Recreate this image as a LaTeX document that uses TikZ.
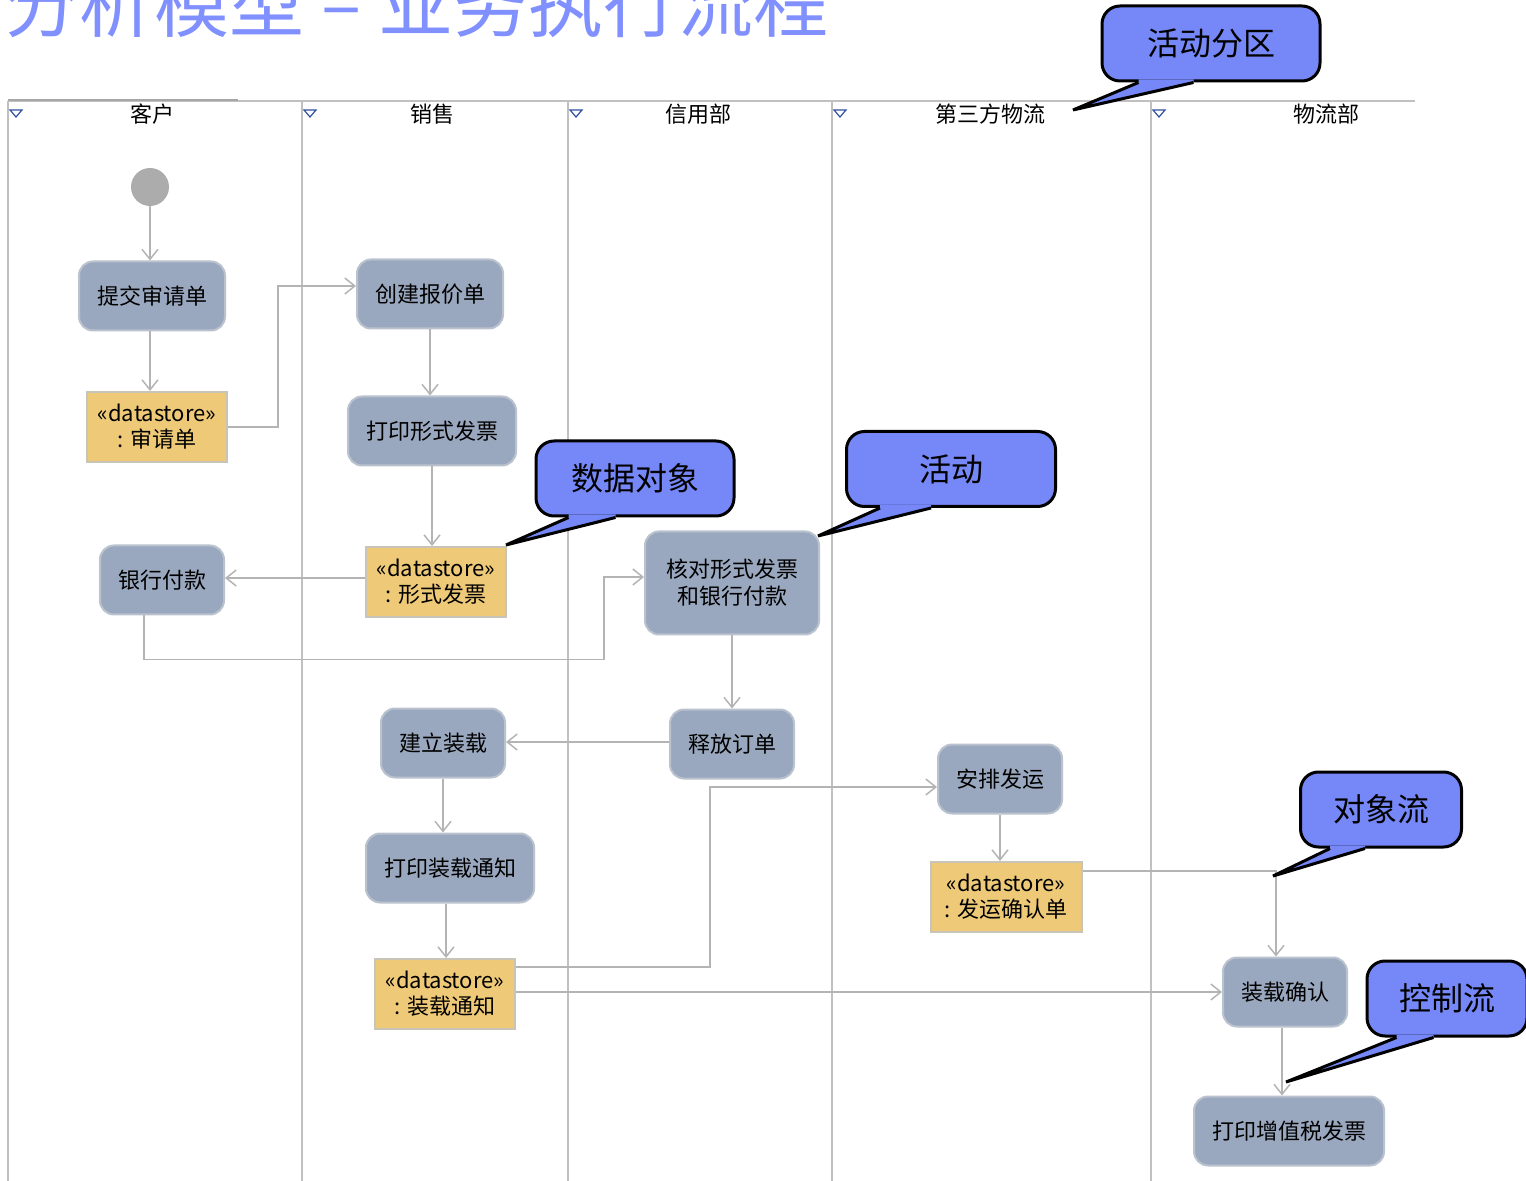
\documentclass[tikz,border=0pt]{standalone}
\usepackage{fontspec}
\setmainfont{Noto Sans CJK SC}
\usetikzlibrary{arrows.meta,calc}

\definecolor{lanegray}{RGB}{192,192,192}
\definecolor{flowgray}{RGB}{180,180,180}
\definecolor{actfill}{RGB}{154,168,191}
\definecolor{actline}{RGB}{186,194,206}
\definecolor{dsfill}{RGB}{238,201,120}
\definecolor{dsline}{RGB}{200,196,184}
\definecolor{initgray}{RGB}{172,172,172}
\definecolor{noteblue}{RGB}{118,136,248}
\definecolor{titleblue}{RGB}{128,144,255}
\definecolor{triblue}{RGB}{48,80,160}

\begin{document}
\begin{tikzpicture}[x=0.5pt, y=-0.5pt, >={Straight Barb[length=5pt,width=8pt]},
  activity/.style={draw=actline, fill=actfill, line width=1pt, rounded corners=7pt,
    minimum height=34.5pt, inner xsep=9pt, align=center,
    font=\fontsize{11}{13.5}\selectfont},
  datastore/.style={draw=dsline, fill=dsfill, line width=1pt, minimum width=70pt,
    minimum height=35pt, inner xsep=5pt, align=center,
    font=\fontsize{11}{13}\selectfont},
  initstate/.style={circle, fill=initgray, minimum size=19pt, inner sep=0pt},
  lane label/.style={font=\fontsize{11}{13}\selectfont, inner sep=0pt},
  flow/.style={->, draw=flowgray, line width=0.75pt},
  note/.style={draw=black, fill=noteblue, line width=1.5pt, rounded corners=9pt,
    minimum height=37.5pt, font=\fontsize{16}{18}\selectfont}]

\useasboundingbox (0,0) rectangle (1526,1181);
\clip (0,0) rectangle (1526,1181);

% title
\node [anchor=base west, inner sep=0pt, text=titleblue,
  font=\fontsize{37.5}{40}\selectfont] (title) at (4,32) {分析模型 – 业务执行流程};

% swimlanes
\draw [lanegray, line width=1pt] (8,101) -- (1415,101);
\draw [gray!70, line width=1pt] (8,100) -- (238,100);
\foreach \x/\l/\c in {8/客户/152, 302/销售/432, 568/信用部/698,
                      832/第三方物流/990, 1151/物流部/1326}
{
  \draw [lanegray, line width=1pt] (\x,101) -- (\x,1181);
  \node [lane label] (lane-\x) at (\c,114) {\l};
  \draw [triblue, fill=white, line width=0.6pt]
    (\x+2,110) -- (\x+14,110) -- (\x+8,117) -- cycle;
}

% activities and data stores
\node [initstate] (init) at (150,187) {};
\node [activity] (submit) at (152,296) {提交审请单};
\node [datastore] (ds1) at (157,427) {«datastore»\\: 审请单};
\node [activity] (quote) at (430,294) {创建报价单};
\node [activity] (printpi) at (432,431) {打印形式发票};
\node [datastore] (ds2) at (436,582) {«datastore»\\: 形式发票};
\node [activity] (bank) at (162,580) {银行付款};
\node [activity, minimum width=87pt, minimum height=51.5pt] (check) at (732,583)
  {核对形式发票\\和银行付款};
\node [activity] (release) at (732,744) {释放订单};
\node [activity] (load) at (443,743) {建立装载};
\node [activity] (println) at (450,868) {打印装载通知};
\node [datastore] (ds3) at (445,994) {«datastore»\\: 装载通知};
\node [activity] (ship) at (1000,779) {安排发运};
\node [datastore, minimum width=75.5pt] (ds4) at (1006,897) {«datastore»\\: 发运确认单};
\node [activity] (confirm) at (1285,992) {装载确认};
\node [activity] (vat) at (1289,1131) {打印增值税发票};

% flows
\draw [flow] (init) -- (init |- submit.north);
\draw [flow] ([xshift=-1pt]submit.south) -- ([xshift=-1pt]submit.south |- ds1.north);
\draw [flow] (ds1.east) -- ++(50,0) |- ([yshift=4pt]quote.west);
\draw [flow] (quote.south) -- (quote.south |- printpi.north);
\draw [flow] (printpi.south) -- (printpi.south |- ds2.north);
\draw [flow] ([yshift=2pt]ds2.west) -- ([yshift=2pt]ds2.west -| bank.east);
\draw [flow] ([xshift=-9pt]bank.south) -- ++(0,44)
  -| ([xshift=-20pt,yshift=3pt]check.west) -- ([yshift=3pt]check.west);
\draw [flow] (check) -- (release);
\draw [flow] ([yshift=1pt]release.west) -- ([yshift=1pt]release.west -| load.east);
\draw [flow] (load.south) -- (load.south |- println.north);
\draw [flow] ([xshift=-2pt]println.south) -- ([xshift=-2pt]println.south |- ds3.north);
\draw [flow] ([yshift=13.5pt]ds3.east) -- ++(194,0) |- ([yshift=-4pt]ship.west);
\draw [flow] (ds3.east |- confirm.west) -- (confirm.west);
\draw [flow] (ship.south) -- (ship.south |- ds4.north);
\draw [flow] ([yshift=13pt]ds4.east) -| ([xshift=-4.5pt]confirm.north);
\draw [flow] ([xshift=-1.5pt]confirm.south) -- ([xshift=-1.5pt]confirm.south |- vat.north);

% callouts
\foreach \n/\cx/\cy/\w/\t/\tx/\ty/\a/\b in {
  partition/1211/43.5/109pt/活动分区/1073/110/38/93,
  dataobj/635/478.5/99pt/数据对象/506/545/34/81,
  actnote/951/469/104.5pt/活动/818/536/35/86,
  objflow/1381/809.5/80.5pt/对象流/1273/876/31/66,
  ctrlflow/1447/998.5/80pt/控制流/1286/1082/31/68}
{
  \node [note, minimum width=\w] (\n) at (\cx,\cy) {\t};
  \coordinate (\n-tip) at (\tx,\ty);
  \fill [noteblue] ($(\n.south west)+(\a,-3)$) -- ($(\n.south west)+(\a,0)$)
    -- (\n-tip) -- ($(\n.south west)+(\b,0)$) -- ($(\n.south west)+(\b,-3)$) -- cycle;
  \draw [black, line width=1.5pt] ($(\n.south west)+(\a,0)$) -- (\n-tip)
    -- ($(\n.south west)+(\b,0)$);
}

\end{tikzpicture}
\end{document}
